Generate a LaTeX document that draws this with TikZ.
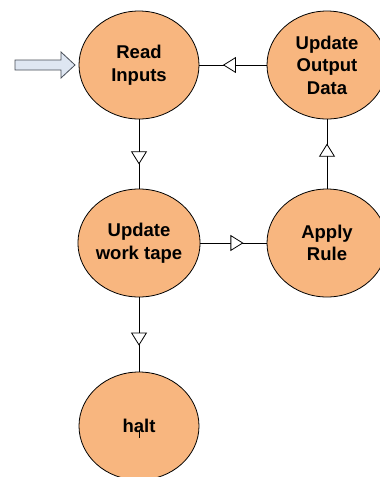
\documentclass[tikz,border=0pt]{standalone}
\usepackage{fontspec}
\setmainfont{Liberation Sans}
\usetikzlibrary{shapes.geometric,arrows.meta,decorations.markings}
\definecolor{stepfill}{RGB}{248,182,127}
\definecolor{inarrowfill}{RGB}{222,230,242}
\definecolor{inarrowline}{RGB}{70,76,86}
\tikzset{
  state/.style={ellipse, draw=black, line width=0.8pt, fill=stepfill,
    minimum width=120pt, minimum height=108pt, inner sep=0pt,
    align=center, font=\fontsize{18.5}{22.5}\selectfont\bfseries},
  flow/.style={draw=black, line width=0.8pt,
    postaction={decorate},
    decoration={markings, mark=at position 0.65 with
      {\arrow{Triangle[fill=white, length=13pt, width=16pt, line width=0.8pt]}}}},
}
\begin{document}
\begin{tikzpicture}[x=1pt,y=-1pt]
  \useasboundingbox (0,0) rectangle (380,477);
  \clip (0,0) rectangle (380,477);

  % process steps
  \node[state] (read)   at (139,65)  {Read\\Inputs};
  \node[state] (output) at (327,65)  {Update\\Output\\Data};
  \node[state] (work)   at (139,243) {Update\\work tape};
  \node[state] (rule)   at (327,243) {Apply\\Rule};
  \node[state] (halt)   at (139,426) {halt};

  % stray cursor mark inside the halt step
  \draw[line width=0.6pt] (139,430) -- (139,438);

  % flow between the steps
  \draw[flow] (read.south)  -- (work.north);
  \draw[flow] (work.east)   -- (rule.west);
  \draw[flow] (rule.north)  -- (output.south);
  \draw[flow] (output.west) -- (read.east);
  \draw[flow] (work.south)  -- (halt.north);

  % entry block arrow
  \coordinate (entry) at (15,65);
  \filldraw[fill=inarrowfill, draw=inarrowline, line width=0.8pt, line join=miter]
    (entry) ++(0,-5) -- (61,60) -- (61,52) -- (75,65) -- (61,78) -- (61,70)
    -- (15,70) -- cycle;
\end{tikzpicture}
\end{document}
